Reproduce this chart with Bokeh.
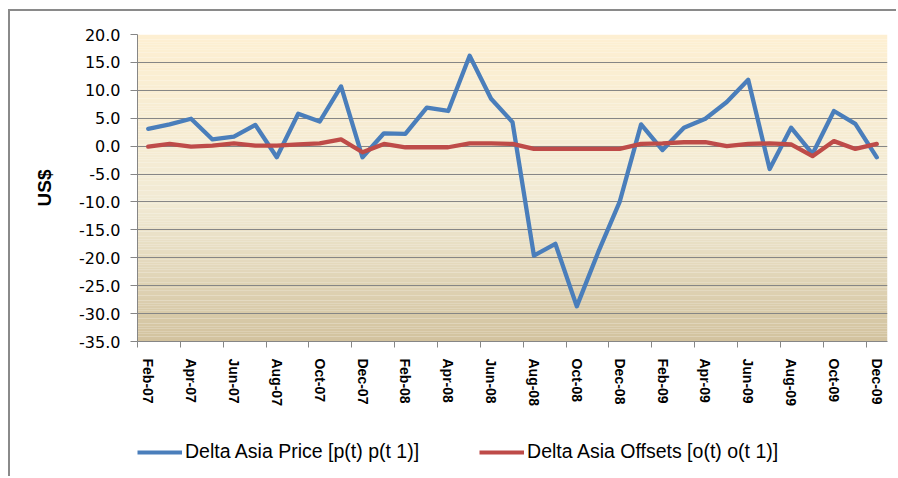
import numpy as np
from bokeh.plotting import figure
from bokeh.layouts import column
from bokeh.models import (ColumnDataSource, FixedTicker, Legend, LegendItem,
                          CustomJSTickFormatter)
from bokeh.embed import file_html
from bokeh.resources import INLINE

months = ["Feb-07", "Mar-07", "Apr-07", "May-07", "Jun-07", "Jul-07", "Aug-07",
          "Sep-07", "Oct-07", "Nov-07", "Dec-07", "Jan-08", "Feb-08", "Mar-08",
          "Apr-08", "May-08", "Jun-08", "Jul-08", "Aug-08", "Sep-08", "Oct-08",
          "Nov-08", "Dec-08", "Jan-09", "Feb-09", "Mar-09", "Apr-09", "May-09",
          "Jun-09", "Jul-09", "Aug-09", "Sep-09", "Oct-09", "Nov-09", "Dec-09"]
price = [3.1, 3.9, 4.9, 1.2, 1.7, 3.8, -2.0, 5.8, 4.4, 10.7, -2.0, 2.3, 2.2, 6.9,
         6.3, 16.2, 8.5, 4.3, -19.6, -17.5, -28.7, -19.0, -10.0, 3.9, -0.7, 3.3,
         4.9, 7.9, 11.9, -4.1, 3.3, -1.4, 6.3, 4.0, -2.0]
offsets = [-0.1, 0.4, -0.1, 0.1, 0.5, 0.1, 0.1, 0.3, 0.5, 1.2, -1.1, 0.4, -0.2,
           -0.2, -0.2, 0.5, 0.5, 0.4, -0.5, -0.5, -0.5, -0.5, -0.5, 0.4, 0.5,
           0.7, 0.7, 0.0, 0.4, 0.5, 0.3, -1.8, 0.9, -0.5, 0.4]
y_ticks = [-35, -30, -25, -20, -15, -10, -5, 0, 5, 10, 15, 20]
series_names = ["Delta Asia Price [p(t) p(t 1)]", "Delta Asia Offsets [o(t) o(t 1)]"]
series_colors = ["#4A7EBB", "#BE4B48"]
label_every = 2

n = len(months)
xs = [i + 0.5 for i in range(n)]
src = ColumnDataSource(dict(x=xs, price=price, offsets=offsets))

W = 886
p = figure(width=W, height=409, output_backend="svg", toolbar_location=None,
           x_range=(0, n), y_range=(y_ticks[0], y_ticks[-1]),
           min_border_left=127, min_border_right=9, min_border_top=23,
           min_border_bottom=79)
p.background_fill_color = None
p.border_fill_color = "white"
p.outline_line_color = None

# gradient background of the plot area
stops_pos = [0.0, 0.55, 1.0]
stops_col = np.array([[253, 239, 210], [241, 234, 212], [210, 194, 158]])
N = 120
edges = np.linspace(y_ticks[-1], y_ticks[0], N + 1)
frac = (np.arange(N) + 0.5) / N
cols = []
for f in frac:
    r = [int(round(np.interp(f, stops_pos, stops_col[:, k]))) for k in range(3)]
    cols.append("#%02x%02x%02x" % tuple(r))
p.quad(left=0, right=n, top=edges[:-1], bottom=edges[1:], fill_color=cols,
       line_color=None, level="image")

p.line("x", "price", source=src, line_color=series_colors[0], line_width=4.3,
       line_join="round", line_cap="round")
p.line("x", "offsets", source=src, line_color=series_colors[1], line_width=4.3,
       line_join="round", line_cap="round")

# y axis
p.yaxis.ticker = FixedTicker(ticks=y_ticks)
p.yaxis.formatter = CustomJSTickFormatter(code="return tick.toFixed(1);")
p.yaxis.axis_label = "US$"
p.yaxis.axis_label_text_font = "Liberation Sans"
p.yaxis.axis_label_text_font_style = "bold"
p.yaxis.axis_label_text_font_size = "19px"
p.yaxis.axis_label_text_color = "black"
p.yaxis.axis_label_standoff = 21
p.yaxis.major_label_text_font = "DejaVu Sans"
p.yaxis.major_label_text_font_size = "16px"
p.yaxis.major_label_text_color = "black"
p.yaxis.major_label_standoff = 10
p.yaxis.major_tick_out = 7
p.yaxis.major_tick_in = 0
p.yaxis.minor_tick_out = 0
p.yaxis.minor_tick_in = 0
p.yaxis.axis_line_color = "#868686"
p.yaxis.major_tick_line_color = "#868686"

# x axis
lab_ticks = [xs[i] for i in range(0, n, label_every)]
bound_ticks = [float(i) for i in range(0, n, label_every)]
p.xaxis.ticker = FixedTicker(ticks=lab_ticks, minor_ticks=bound_ticks)
p.xaxis.major_label_overrides = {xs[i]: months[i] for i in range(0, n, label_every)}
p.xaxis.major_label_orientation = "vertical"
p.xaxis.major_label_text_font = "Liberation Sans"
p.xaxis.major_label_text_font_style = "bold"
p.xaxis.major_label_text_font_size = "14px"
p.xaxis.major_label_text_color = "black"
p.xaxis.major_label_standoff = 11
p.xaxis.major_tick_out = 0
p.xaxis.major_tick_in = 0
p.xaxis.minor_tick_out = 6
p.xaxis.minor_tick_in = 0
p.xaxis.minor_tick_line_color = "#868686"
p.xaxis.axis_line_color = "#868686"

p.xgrid.visible = False
p.ygrid.ticker = FixedTicker(ticks=y_ticks)
p.ygrid.grid_line_color = "#868686"
p.ygrid.grid_line_width = 1.2

# legend strip below the chart (frame is aligned with the chart's frame)
p2 = figure(width=W, height=56, output_backend="svg", toolbar_location=None,
            x_range=(0, 1), y_range=(0, 1), min_border=0)
p2.axis.visible = False
p2.grid.visible = False
p2.outline_line_color = None
p2.background_fill_color = "white"
p2.border_fill_color = "white"
d1 = p2.line(x=[np.nan, np.nan], y=[np.nan, np.nan], line_color=series_colors[0], line_width=4)
d2 = p2.line(x=[np.nan, np.nan], y=[np.nan, np.nan], line_color=series_colors[1], line_width=4)
legend = Legend(items=[LegendItem(label=series_names[0], renderers=[d1]),
                       LegendItem(label=series_names[1], renderers=[d2])],
                location=(0, 13), orientation="horizontal",
                glyph_width=45, glyph_height=20, label_height=20,
                label_standoff=3, spacing=60, padding=0, margin=0,
                border_line_color=None, background_fill_color=None,
                label_text_font="Liberation Sans", label_text_font_size="19.5px",
                label_text_color="black")
p2.add_layout(legend, "center")

layout = column(p, p2, spacing=0)
layout.styles = {"margin-left": "8px", "margin-top": "9px",
                 "border-left": "2px solid #8a8a8a", "border-top": "2px solid #8a8a8a"}

open("out.html", "w").write(file_html(layout, INLINE))
